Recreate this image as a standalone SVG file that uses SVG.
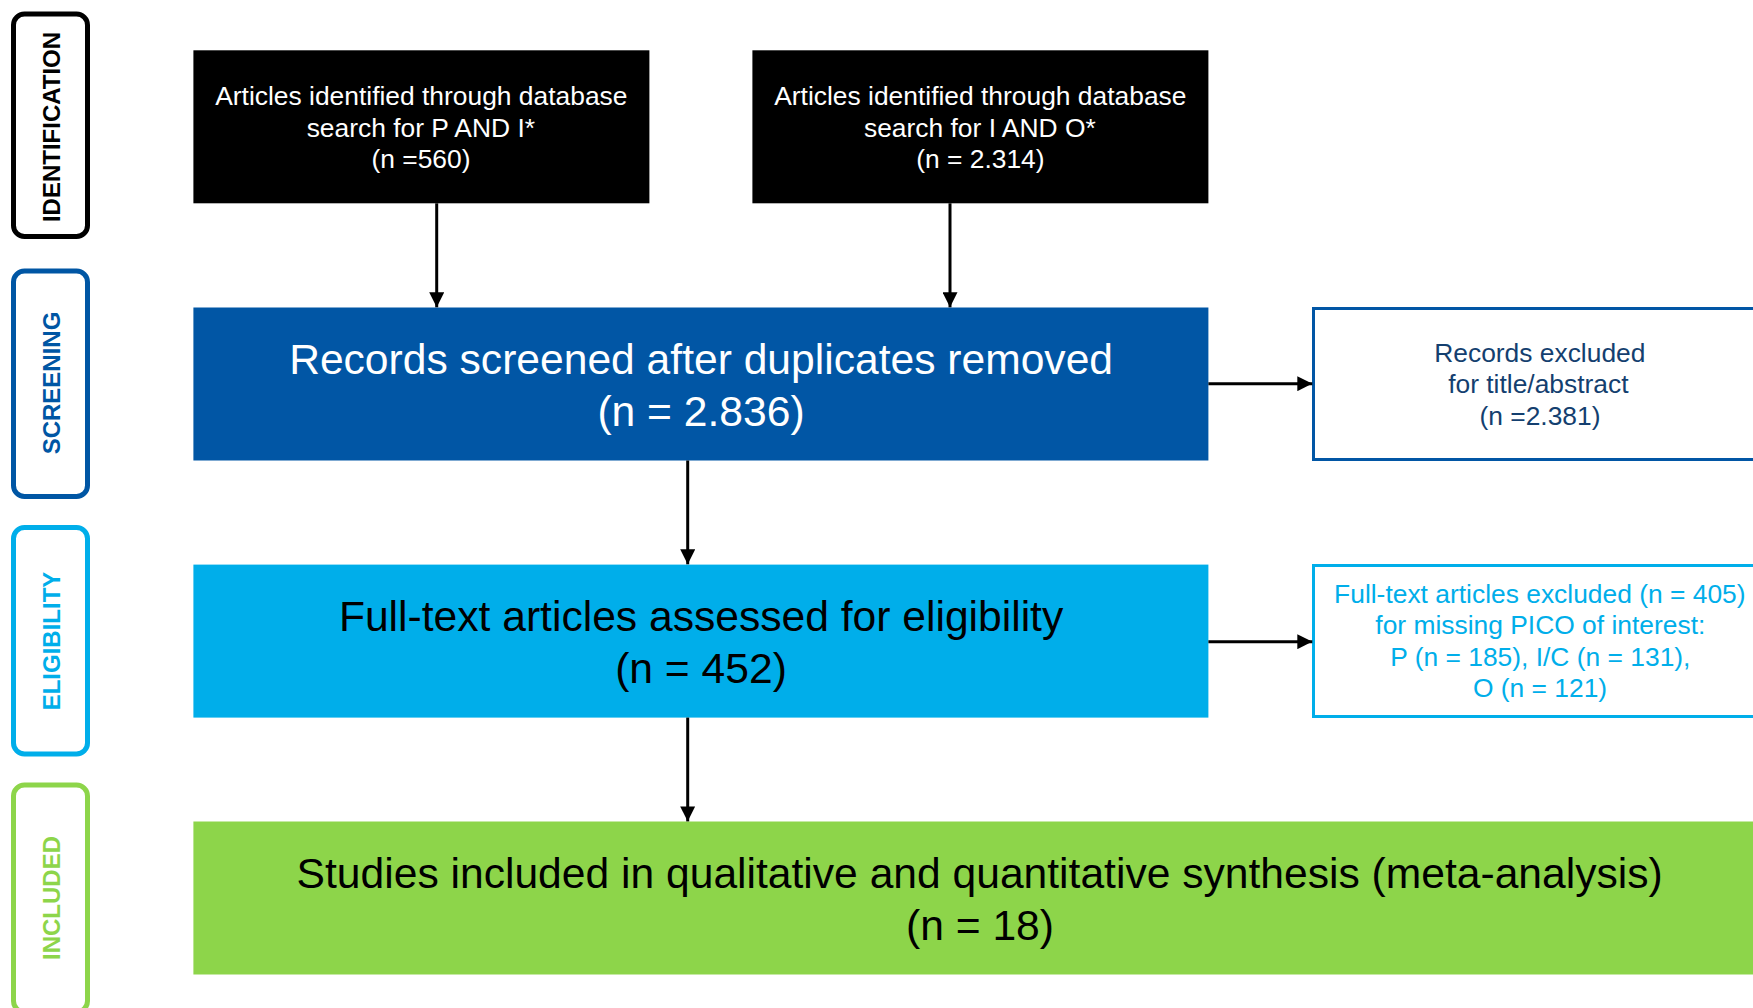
<svg xmlns="http://www.w3.org/2000/svg" width="1753" height="1008" viewBox="0 0 1753 1008">
  <style>
    text { font-family: "Liberation Sans", Arial, sans-serif; text-anchor: middle; }
    .phase { fill: #ffffff; stroke-width: 5; }
    .phase-label { font-size: 24px; font-weight: bold; }
    .small { font-size: 26.4px; }
    .big { font-size: 42.6px; }
    .conn { stroke: #000000; stroke-width: 3; fill: none; marker-end: url(#arrow); }
  </style>
  <defs>
    <marker id="arrow" viewBox="0 0 10 10" refX="10" refY="5" markerWidth="5" markerHeight="5" markerUnits="strokeWidth" orient="auto">
      <path d="M0,0 L10,5 L0,10 Z" fill="#000000"/>
    </marker>
  </defs>
  <rect width="1753" height="1008" fill="#ffffff"/>

  <!-- Phase labels on the left -->
  <g id="phase-identification">
    <rect class="phase" x="13.5" y="14" width="74" height="222.5" rx="11" stroke="#000000"/>
    <text class="phase-label" transform="translate(60,127) rotate(-90)" fill="#000000">IDENTIFICATION</text>
  </g>
  <g id="phase-screening">
    <rect class="phase" x="13.5" y="271" width="74" height="225.5" rx="11" stroke="#0056A4"/>
    <text class="phase-label" transform="translate(60,383) rotate(-90)" fill="#0056A4">SCREENING</text>
  </g>
  <g id="phase-eligibility">
    <rect class="phase" x="13.5" y="527.5" width="74" height="226.5" rx="11" stroke="#00AEEA"/>
    <text class="phase-label" transform="translate(60,641) rotate(-90)" fill="#00AEEA">ELIGIBILITY</text>
  </g>
  <g id="phase-included">
    <rect class="phase" x="13.5" y="785" width="74" height="227" rx="11" stroke="#8DD54A"/>
    <text class="phase-label" transform="translate(60,898) rotate(-90)" fill="#8DD54A">INCLUDED</text>
  </g>

  <!-- Identification boxes -->
  <g id="search-p-and-i">
    <rect x="193.4" y="50.3" width="456" height="153" fill="#000000"/>
    <text class="small" fill="#ffffff">
      <tspan x="425" y="105">Articles identified through database</tspan>
      <tspan x="424.5" y="136.5">search for P AND I*</tspan>
      <tspan x="421" y="167.5">(n =560)</tspan>
    </text>
  </g>
  <g id="search-i-and-o">
    <rect x="752.4" y="50.3" width="456" height="153" fill="#000000"/>
    <text class="small" fill="#ffffff">
      <tspan x="984" y="105">Articles identified through database</tspan>
      <tspan x="983.5" y="136.5">search for I AND O*</tspan>
      <tspan x="980.4" y="167.5">(n = 2.314)</tspan>
    </text>
  </g>

  <!-- Screening -->
  <g id="records-screened">
    <rect x="193.4" y="307.5" width="1015" height="153" fill="#0156A5"/>
    <text class="big" fill="#ffffff">
      <tspan x="707" y="374">Records screened after duplicates removed</tspan>
      <tspan x="701" y="426">(n = 2.836)</tspan>
    </text>
  </g>
  <g id="records-excluded">
    <rect x="1313.5" y="308.5" width="453" height="151" fill="#ffffff" stroke="#0156A5" stroke-width="3"/>
    <text class="small" fill="#143F6F">
      <tspan x="1543.5" y="361.7">Records excluded</tspan>
      <tspan x="1542" y="393.3">for title/abstract</tspan>
      <tspan x="1540" y="425">(n =2.381)</tspan>
    </text>
  </g>

  <!-- Eligibility -->
  <g id="full-text-assessed">
    <rect x="193.4" y="564.6" width="1015" height="153" fill="#00AEEA"/>
    <text class="big" fill="#000000">
      <tspan x="707" y="631">Full-text articles assessed for eligibility</tspan>
      <tspan x="701" y="683">(n = 452)</tspan>
    </text>
  </g>
  <g id="full-text-excluded">
    <rect x="1313.5" y="565.5" width="453" height="151" fill="#ffffff" stroke="#00AEEA" stroke-width="3"/>
    <text class="small" fill="#00AEEA">
      <tspan x="1543.5" y="602.7">Full-text articles excluded (n = 405)</tspan>
      <tspan x="1544" y="633.8">for missing PICO of interest:</tspan>
      <tspan x="1544" y="666.2">P (n = 185), I/C (n = 131),</tspan>
      <tspan x="1540" y="697.3">O (n = 121)</tspan>
    </text>
  </g>

  <!-- Included -->
  <g id="studies-included">
    <rect x="193.4" y="821.5" width="1573" height="153" fill="#8DD54A"/>
    <text class="big" fill="#000000">
      <tspan x="985.6" y="888">Studies included in qualitative and quantitative synthesis (meta-analysis)</tspan>
      <tspan x="980" y="940">(n = 18)</tspan>
    </text>
  </g>

  <!-- Connectors -->
  <g id="connectors">
    <line class="conn" x1="436.7" y1="203.3" x2="436.7" y2="307.3"/>
    <line class="conn" x1="950" y1="203.3" x2="950" y2="307.3"/>
    <line class="conn" x1="687.7" y1="460.5" x2="687.7" y2="564.3"/>
    <line class="conn" x1="687.7" y1="717.6" x2="687.7" y2="821.4"/>
    <line class="conn" x1="1208.4" y1="383.7" x2="1312.3" y2="383.7"/>
    <line class="conn" x1="1208.4" y1="641.7" x2="1312.3" y2="641.7"/>
  </g>
</svg>
